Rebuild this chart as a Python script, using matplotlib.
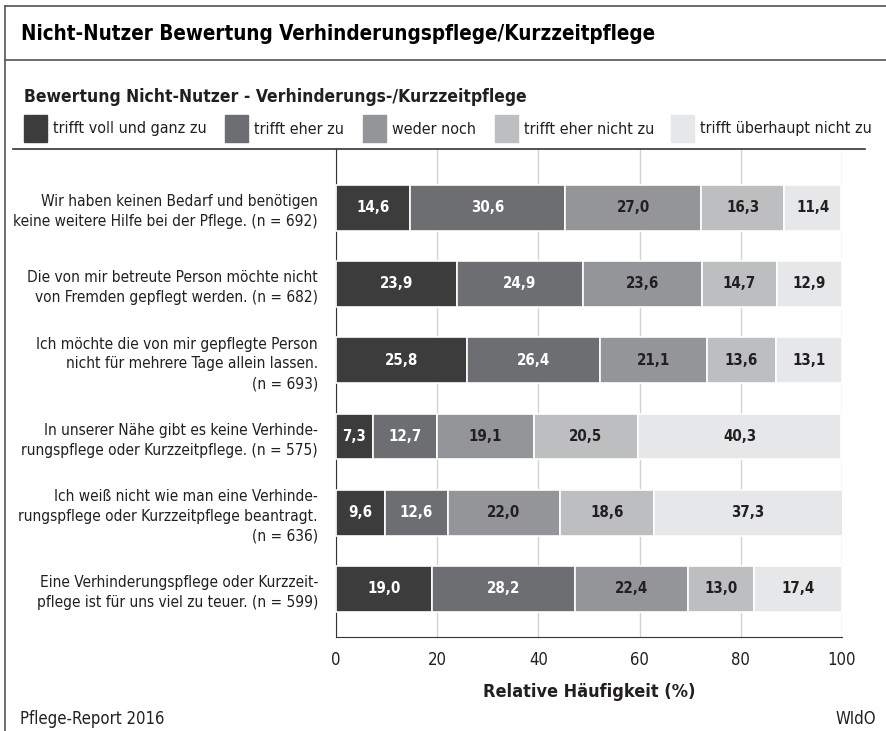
import numpy as np
import matplotlib.pyplot as plt
from matplotlib.patches import Rectangle
from matplotlib.lines import Line2D

plt.rcParams['font.family'] = ['DejaVu Sans']
plt.rcParams['font.stretch'] = 'condensed'

# data
statements = [
    "Wir haben keinen Bedarf und benötigen\nkeine weitere Hilfe bei der Pflege. (n = 692)",
    "Die von mir betreute Person möchte nicht\nvon Fremden gepflegt werden. (n = 682)",
    "Ich möchte die von mir gepflegte Person\nnicht für mehrere Tage allein lassen.\n(n = 693)",
    "In unserer Nähe gibt es keine Verhinde-\nrungspflege oder Kurzzeitpflege. (n = 575)",
    "Ich weiß nicht wie man eine Verhinde-\nrungspflege oder Kurzzeitpflege beantragt.\n(n = 636)",
    "Eine Verhinderungspflege oder Kurzzeit-\npflege ist für uns viel zu teuer. (n = 599)",
]
categories = ["trifft voll und ganz zu", "trifft eher zu", "weder noch",
              "trifft eher nicht zu", "trifft überhaupt nicht zu"]
voll = [14.6, 23.9, 25.8, 7.3, 9.6, 19.0]
eher = [30.6, 24.9, 26.4, 12.7, 12.6, 28.2]
weder = [27.0, 23.6, 21.1, 19.1, 22.0, 22.4]
eher_nicht = [16.3, 14.7, 13.6, 20.5, 18.6, 13.0]
ueberhaupt_nicht = [11.4, 12.9, 13.1, 40.3, 37.3, 17.4]
x_ticks = [0, 20, 40, 60, 80, 100]

series = [voll, eher, weder, eher_nicht, ueberhaupt_nicht]
colors = ['#3c3c3c', '#6d6e71', '#939598', '#bcbec0', '#e6e7e8']
txt_colors = ['white', 'white', '#231f20', '#231f20', '#231f20']
dark = '#231f20'

W, H = 886, 731
fig = plt.figure(figsize=(W / 100, H / 100), dpi=100)


def fx(x):
    return x / W


def fy(y):
    return 1 - y / H


ax = fig.add_axes([fx(336), fy(637), fx(842) - fx(336), fy(149) - fy(637)])

ypos = np.arange(len(statements))
left = np.zeros(len(statements))
for vals, col, tc in zip(series, colors, txt_colors):
    vals = np.array(vals)
    ax.barh(ypos, vals, left=left, height=0.6, color=col,
            edgecolor='white', linewidth=1.2, zorder=3)
    for y, l, v in zip(ypos, left, vals):
        ax.text(l + v / 2, y, f"{v:.1f}".replace('.', ','), ha='center',
                va='center', color=tc, fontsize=10.8, fontweight='bold', zorder=4)
    left += vals

ax.set_xlim(0, 100)
ax.set_ylim(5.63, -0.77)
ax.set_xticks(x_ticks)
ax.set_xticklabels([str(t) for t in x_ticks], fontsize=12, color=dark)
ax.tick_params(axis='x', length=0, pad=10)
ax.set_yticks(ypos)
ax.set_yticklabels(statements, fontsize=11.1, color=dark, linespacing=1.38)
ax.tick_params(axis='y', length=0, pad=13)
ax.grid(axis='x', color='#d2d2d2', linewidth=1, zorder=0)
for s in ['top', 'right']:
    ax.spines[s].set_visible(False)
ax.spines['left'].set_color('#333333')
ax.spines['bottom'].set_color('#333333')
ax.set_xlabel('Relative Häufigkeit (%)', fontsize=13, fontweight='bold',
              color=dark, labelpad=10)

# frame and title
fig.add_artist(Line2D([fx(5), 1], [fy(6), fy(6)], color='#555555', lw=1.2))
fig.add_artist(Line2D([fx(5), fx(5)], [fy(6), 0], color='#555555', lw=1.2))
fig.add_artist(Line2D([fx(5), 1], [fy(60), fy(60)], color='#555555', lw=1.2))
fig.add_artist(Line2D([fx(13), fx(865)], [fy(149), fy(149)], color='#333333', lw=1.2))

fig.text(fx(21), fy(34), 'Nicht-Nutzer Bewertung Verhinderungspflege/Kurzzeitpflege',
         fontsize=14.8, fontweight='bold', color='black', va='center')
fig.text(fx(24), fy(97), 'Bewertung Nicht-Nutzer - Verhinderungs-/Kurzzeitpflege',
         fontsize=12.5, fontweight='bold', color=dark, va='center')

# legend
leg_x = [24, 225, 363, 495, 671]
for lx, cat, col in zip(leg_x, categories, colors):
    fig.add_artist(Rectangle((fx(lx), fy(142)), fx(23), fy(115) - fy(142),
                             color=col, transform=fig.transFigure))
    fig.text(fx(lx + 29), fy(129), cat, fontsize=11.5, color=dark, va='center')

fig.text(fx(20), fy(719), 'Pflege-Report 2016', fontsize=12, color=dark, va='center')
fig.text(fx(876), fy(719), 'WIdO', fontsize=12, color=dark, va='center', ha='right')

fig.savefig('out.png', dpi=100)
